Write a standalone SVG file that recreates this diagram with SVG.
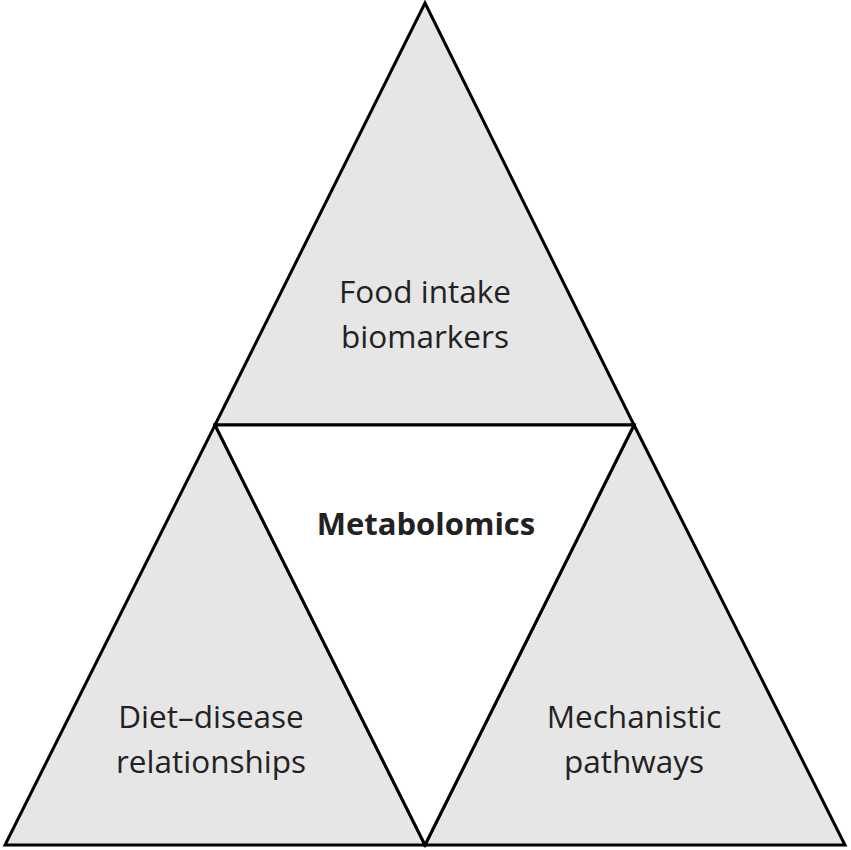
<svg xmlns="http://www.w3.org/2000/svg" width="851" height="850" viewBox="0 0 851 850">
<style>
.tri{fill:#e6e6e6;stroke:#000;stroke-width:3;stroke-linejoin:miter}
.inner{fill:#fff;stroke:#000;stroke-width:3}
.lbl{font-family:"Open Sans","Liberation Sans",sans-serif;font-size:31.5px;fill:#222;text-anchor:middle}
.bold{font-weight:bold;font-size:31px}
</style>
<rect width="851" height="850" fill="#fff"/>
<g id="top">
<polygon class="tri" points="425,3 634,425 215,425"/>
<text class="lbl" x="425" y="303">Food intake</text>
<text class="lbl" x="425" y="348">biomarkers</text>
</g>
<g id="left">
<polygon class="tri" points="215,425 425,845 5,845"/>
<text class="lbl" x="211" y="728">Diet–disease</text>
<text class="lbl" x="211" y="773">relationships</text>
</g>
<g id="right">
<polygon class="tri" points="634,425 845,845 425,845"/>
<text class="lbl" x="634" y="728">Mechanistic</text>
<text class="lbl" x="634" y="773">pathways</text>
</g>
<g id="center">
<polygon class="inner" points="215,425 634,425 425,845"/>
<text class="lbl bold" x="426" y="535">Metabolomics</text>
</g>
</svg>
